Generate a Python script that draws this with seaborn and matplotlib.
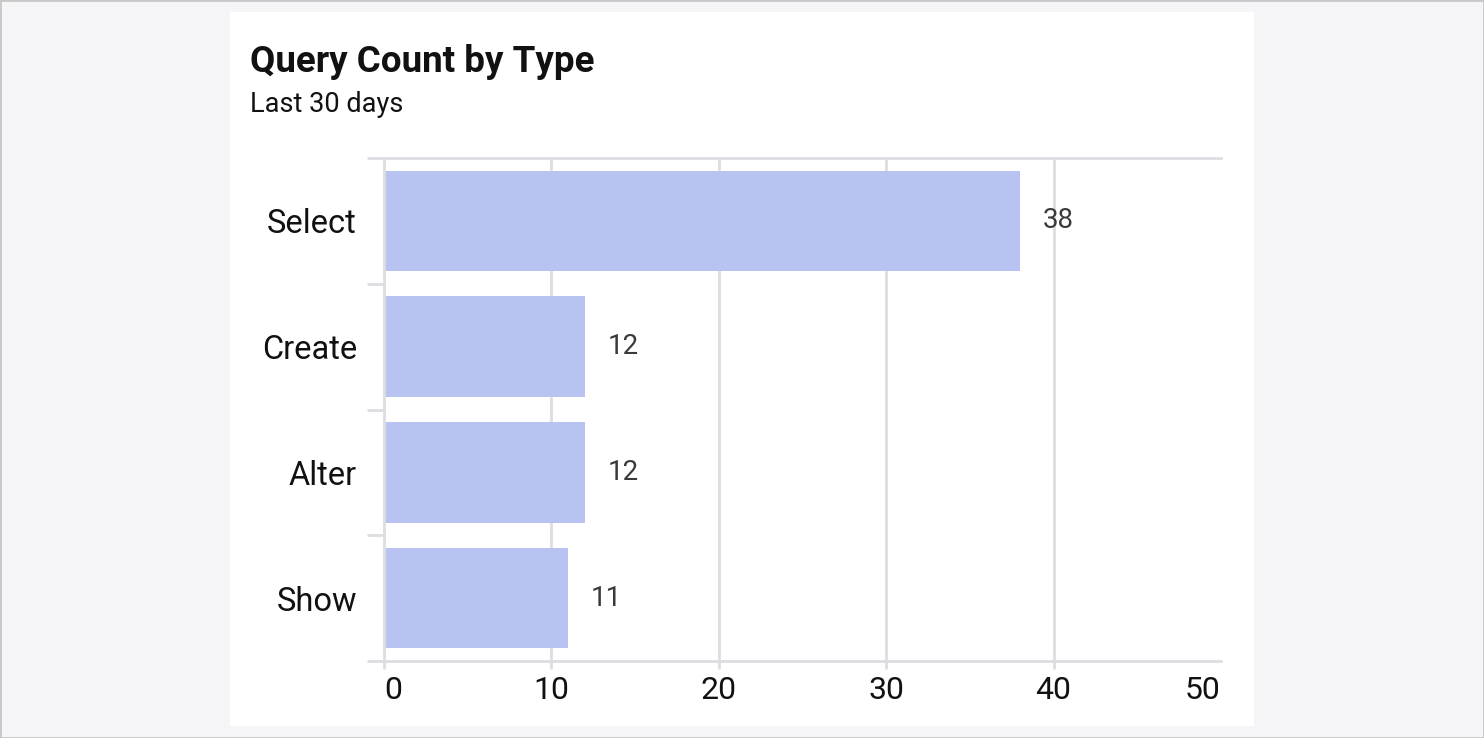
import numpy as np
import matplotlib.pyplot as plt
import seaborn as sns
import pandas as pd
from matplotlib.patches import Rectangle

query_types = ["Select", "Create", "Alter", "Show"]
query_counts = [38, 12, 12, 11]
x_ticks = [0, 10, 20, 30, 40, 50]

df = pd.DataFrame({"type": query_types, "count": query_counts})

sns.set_style("white")
plt.rcParams['font.family'] = ['Roboto', 'DejaVu Sans']

fig = plt.figure(figsize=(14.84, 7.38), dpi=100, facecolor="#f5f5f7")
# white card behind the chart
card = Rectangle((230 / 1484, 12 / 738), 1024 / 1484, 714 / 738,
                 transform=fig.transFigure, facecolor="white",
                 edgecolor="none", zorder=-2)
fig.add_artist(card)
frame = Rectangle((0, 0), 1, 1, transform=fig.transFigure,
                  facecolor="none", edgecolor="#c8c8c8",
                  linewidth=2, zorder=-1)
fig.add_artist(frame)

ax = fig.add_axes([384 / 1484, 77 / 738, 837 / 1484, 503 / 738])
ax.set_zorder(2)
ax.set_facecolor("white")
sns.barplot(data=df, x="count", y="type", color="#b8c3f2", saturation=1,
            width=0.8, linewidth=0, ax=ax, zorder=2)

ax.set_xlim(0, 50)
ax.set_ylim(3.5, -0.5)
ax.set_xticks(x_ticks)
ax.set_xticklabels([str(t) for t in x_ticks], fontsize=23, color="#111111")
ax.set_ylabel("")
ax.set_xlabel("")

grid_c = "#dedde2"
for t in x_ticks[1:-1]:
    ax.axvline(t, color=grid_c, linewidth=2, zorder=1)

for side in ["left", "top", "bottom"]:
    ax.spines[side].set_color(grid_c)
    ax.spines[side].set_linewidth(2)
ax.spines["right"].set_visible(False)

ax.tick_params(axis="x", bottom=True, length=6, width=2, color=grid_c, pad=5)
ax.tick_params(axis="y", which="major", left=True, length=0, pad=19.5,
               labelsize=23.5, labelcolor="#111111")
ax.set_yticks(np.arange(-0.5, 4, 1), minor=True)
ax.tick_params(axis="y", which="minor", left=True, length=12, width=2,
               color=grid_c)

# hide the tick at 50, align end labels
ax.xaxis.get_major_ticks()[-1].tick1line.set_visible(False)
labels = ax.get_xticklabels()
labels[0].set_horizontalalignment("left")
labels[-1].set_horizontalalignment("right")

for i, v in enumerate(query_counts):
    ax.annotate(str(v), xy=(v, i), xytext=(23, 0), textcoords="offset pixels",
                va="center", ha="left", fontsize=20, color="#3a3a3a")

fig.text(250 / 1484, 1 - 62 / 738, "Query Count by Type", fontsize=26.5,
         fontweight="bold", color="#111111", va="center", ha="left")
fig.text(250 / 1484, 1 - 105 / 738, "Last 30 days", fontsize=19.5,
         color="#111111", va="center", ha="left")

fig.savefig("out.png", dpi=100, facecolor=fig.get_facecolor())
